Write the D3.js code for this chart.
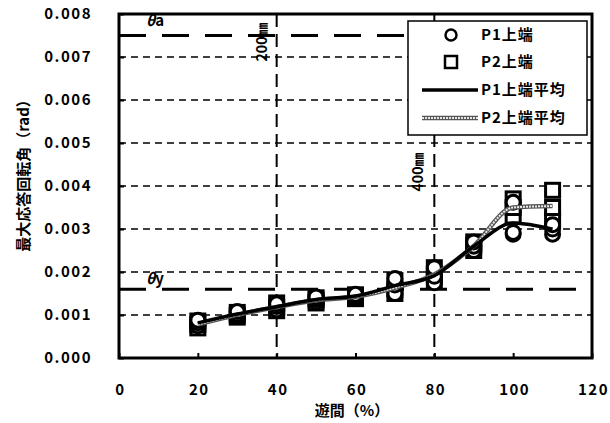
<!DOCTYPE html>
<html>
<head>
<meta charset="utf-8">
<script src="https://cdn.jsdelivr.net/npm/d3@7/dist/d3.min.js"></script>
<style>
  html, body { margin: 0; padding: 0; background: #fff; }
  svg { display: block; }
  text { font-family: "Noto Sans CJK JP", "Liberation Sans", sans-serif; font-weight: bold; fill: #000; }
</style>
</head>
<body>
<svg id="chart" width="610" height="423"></svg>
<script>
// Gap ratio (%) at which the rotations were measured
const gaps = [20, 30, 40, 50, 60, 70, 80, 90, 100, 110];
// Max response rotation (rad), top of pier P1 — three records per gap
const p1Top = [
  [0.00075, 0.00082, 0.00088],
  [0.00097, 0.00102, 0.00108],
  [0.00112, 0.00120, 0.00126],
  [0.00130, 0.00136, 0.00142],
  [0.00140, 0.00144, 0.00148],
  [0.00150, 0.00170, 0.00185],
  [0.00175, 0.00190, 0.00210],
  [0.00250, 0.00260, 0.00270],
  [0.00288, 0.00292, 0.00362],
  [0.00288, 0.00300, 0.00310]
];
// Max response rotation (rad), top of pier P2
const p2Top = [
  [0.00070, 0.00078, 0.00086],
  [0.00095, 0.00100, 0.00106],
  [0.00110, 0.00118, 0.00128],
  [0.00128, 0.00135, 0.00140],
  [0.00138, 0.00143, 0.00147],
  [0.00150, 0.00160, 0.00180],
  [0.00178, 0.00195, 0.00210],
  [0.00250, 0.00262, 0.00270],
  [0.00330, 0.00350, 0.00370],
  [0.00320, 0.00350, 0.00390]
];
const xTicks = [0, 20, 40, 60, 80, 100, 120];
const yTicks = [0, 0.001, 0.002, 0.003, 0.004, 0.005, 0.006, 0.007, 0.008];
// Reference rotations
const thetaA = 0.0075;
const thetaY = 0.0016;
// Pier-width markers (gap %, label)
const widthMarks = [[40, "200㎜"], [80, "400㎜"]];
const legendLabels = ["P1上端", "P2上端", "P1上端平均", "P2上端平均"];

const svg = d3.select("#chart");
const L = 119, R = 592, T = 14, B = 358;
const x = d3.scaleLinear().domain([0, 120]).range([L, R]);
const y = d3.scaleLinear().domain([0, 0.008]).range([B, T]);

// horizontal grid
svg.append("g").selectAll("line").data(yTicks.slice(1, -1)).join("line")
  .attr("x1", L).attr("x2", R).attr("y1", d => y(d)).attr("y2", d => y(d))
  .attr("stroke", "#000").attr("stroke-width", 1.3).attr("stroke-dasharray", "7,5");

// pier-width verticals
svg.append("g").selectAll("line").data(widthMarks).join("line")
  .attr("x1", d => x(d[0])).attr("x2", d => x(d[0])).attr("y1", T).attr("y2", B)
  .attr("stroke", "#000").attr("stroke-width", 2).attr("stroke-dasharray", "13,7");

// theta reference lines
svg.append("g").selectAll("line").data([thetaA, thetaY]).join("line")
  .attr("x1", L).attr("x2", R).attr("y1", d => y(d)).attr("y2", d => y(d))
  .attr("stroke", "#000").attr("stroke-width", 3).attr("stroke-dasharray", "27,16");

svg.append("text").attr("x", 146).attr("y", y(thetaA) - 10).attr("font-size", 15)
  .html('<tspan font-style="italic">θ</tspan>a');
svg.append("text").attr("x", 146).attr("y", y(thetaY) - 5).attr("font-size", 15)
  .html('<tspan font-style="italic">θ</tspan>y');

// width labels, rotated
svg.append("text").attr("transform", `translate(${x(40) - 10},42) rotate(-90)`)
  .attr("text-anchor", "middle").attr("font-size", 14).text(widthMarks[0][1]);
svg.append("text").attr("transform", `translate(${x(80) - 11},172) rotate(-90)`)
  .attr("text-anchor", "middle").attr("font-size", 14).text(widthMarks[1][1]);

// averaged curves
const avg1 = gaps.map((g, i) => [g, d3.mean(p1Top[i])]);
const avg2 = gaps.map((g, i) => [g, d3.mean(p2Top[i])]);
const line = d3.line().x(d => x(d[0])).y(d => y(d[1])).curve(d3.curveMonotoneX);

// markers
const pts1 = gaps.flatMap((g, i) => p1Top[i].map(v => [g, v]));
const pts2 = gaps.flatMap((g, i) => p2Top[i].map(v => [g, v]));
svg.append("g").selectAll("rect").data(pts2).join("rect")
  .attr("x", d => x(d[0]) - 7).attr("y", d => y(d[1]) - 7).attr("width", 14).attr("height", 14)
  .attr("fill", "#fff").attr("stroke", "#000").attr("stroke-width", 3);
svg.append("g").selectAll("circle").data(pts1).join("circle")
  .attr("cx", d => x(d[0])).attr("cy", d => y(d[1])).attr("r", 7)
  .attr("fill", "#fff").attr("stroke", "#000").attr("stroke-width", 3);

svg.append("path").attr("d", line(avg2)).attr("fill", "none").attr("stroke", "#555").attr("stroke-width", 4.5);
svg.append("path").attr("d", line(avg2)).attr("fill", "none").attr("stroke", "#e8e8e8").attr("stroke-width", 2).attr("stroke-dasharray", "2,1");
svg.append("path").attr("d", line(avg1)).attr("fill", "none").attr("stroke", "#000").attr("stroke-width", 3.5);

// axes
const yAxis = d3.axisLeft(y).tickValues(yTicks).tickFormat(d3.format(".3f")).tickSizeInner(-5).tickSizeOuter(0).tickPadding(27);
const gy = svg.append("g").attr("transform", `translate(${L},0)`).call(yAxis);
const xAxis = d3.axisBottom(x).tickValues(xTicks).tickFormat(d3.format("d")).tickSizeInner(-5).tickSizeOuter(0).tickPadding(26);
const gx = svg.append("g").attr("transform", `translate(0,${B})`).call(xAxis);
[gx, gy].forEach(g => {
  g.select(".domain").remove();
  g.selectAll(".tick line").attr("stroke", "#000").attr("stroke-width", 2);
  g.selectAll(".tick text").attr("font-size", 15).attr("font-family", "Liberation Sans, sans-serif")
    .attr("font-weight", "bold").attr("letter-spacing", "1.5px");
});
gx.selectAll(".tick text").attr("dx", "1px");

// frame
svg.append("rect").attr("x", L).attr("y", T).attr("width", R - L).attr("height", B - T)
  .attr("fill", "none").attr("stroke", "#000").attr("stroke-width", 3);

// axis titles
svg.append("text").attr("x", 352).attr("y", 416).attr("text-anchor", "middle").attr("font-size", 15).text("遊間（%）");
svg.append("text").attr("transform", "translate(29,172) rotate(-90)").attr("text-anchor", "middle")
  .attr("font-size", 15).text("最大応答回転角（rad）");

// legend
const lg = svg.append("g");
lg.append("rect").attr("x", 408).attr("y", 21).attr("width", 179).attr("height", 114)
  .attr("fill", "#fff").attr("stroke", "#000").attr("stroke-width", 1.5);
const rowY = [35, 62, 90, 118];
lg.append("circle").attr("cx", 451).attr("cy", rowY[0]).attr("r", 5.5).attr("fill", "#fff").attr("stroke", "#000").attr("stroke-width", 2.5);
lg.append("rect").attr("x", 445).attr("y", rowY[1] - 6).attr("width", 12).attr("height", 12).attr("fill", "#fff").attr("stroke", "#000").attr("stroke-width", 2.5);
lg.append("line").attr("x1", 422).attr("x2", 478).attr("y1", rowY[2]).attr("y2", rowY[2]).attr("stroke", "#000").attr("stroke-width", 3.5);
lg.append("line").attr("x1", 422).attr("x2", 478).attr("y1", rowY[3]).attr("y2", rowY[3]).attr("stroke", "#555").attr("stroke-width", 4.5);
lg.append("line").attr("x1", 422).attr("x2", 478).attr("y1", rowY[3]).attr("y2", rowY[3]).attr("stroke", "#e8e8e8").attr("stroke-width", 2).attr("stroke-dasharray", "2,1");
lg.selectAll("text").data(legendLabels).join("text")
  .attr("x", 481).attr("y", (d, i) => rowY[i] + 5).attr("font-size", 15).attr("letter-spacing", "1px").text(d => d);
</script>
</body>
</html>
